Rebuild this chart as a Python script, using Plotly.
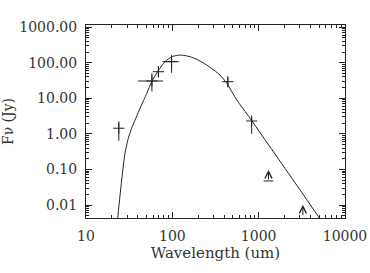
import math
import plotly.graph_objects as go

# observed photometry (wavelength in um, flux density in Jy)
obs_wave = [24, 58, 69, 98, 440, 830]
obs_flux = [1.44, 30.6, 55.8, 107, 29.3, 2.3]
obs_flux_err_plus = [0.8, 20, 21, 57, 9.6, 0.6]
obs_flux_err_minus = [0.8, 15, 17, 55, 8.1, 1.3]
obs_wave_err_plus = [0, 20, 0, 21, 0, 0]
obs_wave_err_minus = [0, 18, 0, 21, 0, 0]

# limits drawn as upward arrows
lim_wave = [1300, 3250]
lim_base = [0.0475, 0.0047]
lim_tip = [0.097, 0.0101]
lim_has_base_bar = [True, False]

# model SED curve
model_wave = [22.5, 23.3, 25.9, 28.3, 30.9, 33.8, 42.3, 50.6, 57.7, 68.9, 82.3, 98.4,
              110, 122, 140, 161, 194, 250, 357, 427, 558, 795, 1621, 3018, 4917, 5789]
model_flux = [0.00144, 0.00426, 0.0507, 0.285, 0.752, 1.44, 5.24, 13.8, 29.3, 60.4, 107, 147,
              158, 164, 159, 147, 123, 86.1, 45.1, 26.4, 8.96, 2.74, 0.229, 0.0265, 0.00472, 0.00268]

FONT = "DejaVu Serif"
INK = "#222222"
TXT = "#333333"

fig = go.Figure()

fig.add_trace(go.Scatter(
    x=model_wave, y=model_flux, mode="lines",
    line=dict(color=INK, width=1, shape="spline", smoothing=0.6),
    showlegend=False, hoverinfo="skip"))

fig.add_trace(go.Scatter(
    x=obs_wave, y=obs_flux, mode="markers",
    marker=dict(symbol="cross-thin-open", size=8, color=INK,
                line=dict(color=INK, width=1)),
    error_y=dict(type="data", symmetric=False, array=obs_flux_err_plus,
                 arrayminus=obs_flux_err_minus, color=INK, thickness=1, width=0),
    error_x=dict(type="data", symmetric=False, array=obs_wave_err_plus,
                 arrayminus=obs_wave_err_minus, color=INK, thickness=1, width=0),
    showlegend=False))

bar_w = [w for w, b in zip(lim_wave, lim_has_base_bar) if b]
bar_f = [f for f, b in zip(lim_base, lim_has_base_bar) if b]
fig.add_trace(go.Scatter(
    x=bar_w, y=bar_f, mode="markers",
    marker=dict(symbol="line-ew-open", size=7, color=INK,
                line=dict(color=INK, width=1)),
    showlegend=False))

for w, b, t in zip(lim_wave, lim_base, lim_tip):
    fig.add_annotation(
        x=math.log10(w), y=math.log10(t), ax=math.log10(w), ay=math.log10(b),
        xref="x", yref="y", axref="x", ayref="y", text="", showarrow=True,
        arrowhead=5, arrowsize=1.4, arrowwidth=1, arrowcolor=INK)

axis_common = dict(
    type="log", showline=True, linecolor=INK, linewidth=1, mirror="ticks",
    ticks="inside", ticklen=6, tickcolor=INK, tickwidth=1,
    showgrid=False, zeroline=False, dtick=1, automargin=False,
    minor=dict(ticks="inside", ticklen=3, tickcolor=INK, showgrid=False),
)

fig.update_xaxes(**axis_common, range=[1, 4], tickformat="d",
                 tickfont=dict(family=FONT, size=14, color=TXT),
                 ticklabelstandoff=5,
                 title=dict(text="Wavelength (um)", font=dict(family=FONT, size=15, color=TXT),
                            standoff=3))
fig.update_yaxes(**axis_common, range=[-2.365, 3.06], tickformat=".2f",
                 tickfont=dict(family=FONT, size=14, color=TXT),
                 ticklabelstandoff=5,
                 title=dict(text="F\u03bd (Jy)", font=dict(family=FONT, size=14, color=TXT),
                            standoff=9))

fig.update_layout(
    width=370, height=273,
    margin=dict(l=86, r=25, t=25, b=55),
    paper_bgcolor="white", plot_bgcolor="white",
    showlegend=False,
)

fig.write_html("out.html", config={"displayModeBar": False},
               post_script="document.body.style.margin='0px';")
